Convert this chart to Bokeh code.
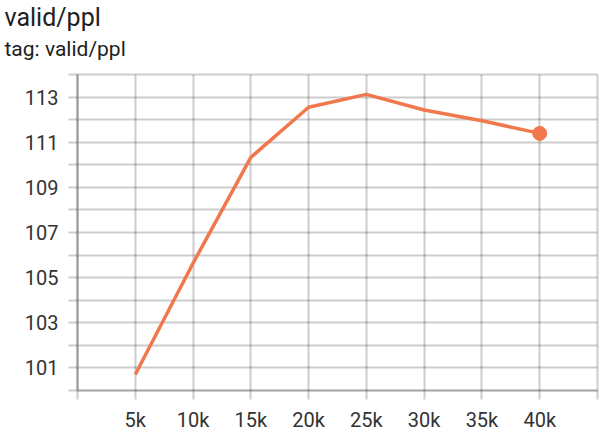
from bokeh.plotting import figure
from bokeh.models import FixedTicker, Title, ColumnDataSource, LinearAxis
from bokeh.embed import file_html
from bokeh.resources import INLINE

steps = [5000, 10000, 15000, 20000, 25000, 30000, 35000, 40000]
ppl = [100.71, 105.64, 110.33, 112.55, 113.12, 112.43, 111.95, 111.39]

x_ticks = [0, 5000, 10000, 15000, 20000, 25000, 30000, 35000, 40000, 45000]
x_labels = ["", "5k", "10k", "15k", "20k", "25k", "30k", "35k", "40k", ""]
y_ticks = list(range(100, 115))
y_labels = [str(v) if v % 2 == 1 else "" for v in y_ticks]

title_text = "valid/ppl"
subtitle_text = "tag: valid/ppl"

LINE = "#f0784c"
GRID = "#000000"
FONT = "Roboto"

W, H = 600, 434
BL, BT, BB = 77, 74, 42
p = figure(width=W, height=H, output_backend="svg", toolbar_location=None,
           x_range=(0, 45000), y_range=(100, 114),
           min_border_left=BL, min_border_right=3, min_border_top=BT, min_border_bottom=BB)

p.outline_line_color = GRID
p.outline_line_alpha = 0.2
p.outline_line_width = 2

for g in (p.xgrid[0], p.ygrid[0]):
    g.grid_line_color = GRID
    g.grid_line_alpha = 0.2
    g.grid_line_width = 2

p.xaxis.ticker = FixedTicker(ticks=x_ticks)
p.xaxis.major_label_overrides = {t: l for t, l in zip(x_ticks, x_labels)}
p.yaxis.ticker = FixedTicker(ticks=y_ticks)
p.yaxis.major_label_overrides = {t: l for t, l in zip(y_ticks, y_labels)}

for ax in (p.xaxis[0], p.yaxis[0]):
    ax.major_tick_out = 9
    ax.major_tick_in = 0
    ax.minor_tick_line_color = None
    ax.major_tick_line_color = GRID
    ax.major_tick_line_alpha = 0.2
    ax.major_tick_line_width = 2
    ax.major_label_text_font = FONT
    ax.major_label_text_font_size = "20px"
    ax.major_label_text_color = "#333333"
    ax.major_label_standoff = 10
p.xaxis.major_label_standoff = 8

p.xaxis.axis_line_color = GRID
p.xaxis.axis_line_alpha = 0.2
p.xaxis.axis_line_width = 2
p.yaxis.axis_line_color = "#999999"
p.yaxis.axis_line_width = 2

src = ColumnDataSource(data=dict(x=steps, y=ppl))
p.line("x", "y", source=src, line_color=LINE, line_width=3.5)
p.scatter(x=[steps[-1]], y=[ppl[-1]], size=14, fill_color=LINE, line_color=LINE)

# an axis without ticks right above the frame: a small gap below the subtitle
spacer = LinearAxis(ticker=FixedTicker(ticks=[]), axis_line_color=None,
                    major_tick_line_color="#ffffff", minor_tick_line_color=None,
                    major_tick_out=6, major_tick_in=0, minor_tick_out=0, minor_tick_in=0,
                    major_label_standoff=0)
p.add_layout(spacer, "above")

# subtitle next to the plot, main title (the figure's own) outermost
p.add_layout(Title(text=subtitle_text, align="left", offset=4 - BL, standoff=28,
                   text_font=FONT, text_font_size="21px", text_font_style="normal",
                   text_color="#212121"), "above")

p.title.text = title_text
p.title.align = "left"
p.title.offset = 4 - BL
p.title.standoff = -23
p.title.text_font = FONT
p.title.text_font_size = "25px"
p.title.text_font_style = "normal"
p.title.text_color = "#212121"

open("out.html", "w").write(file_html(p, INLINE))
